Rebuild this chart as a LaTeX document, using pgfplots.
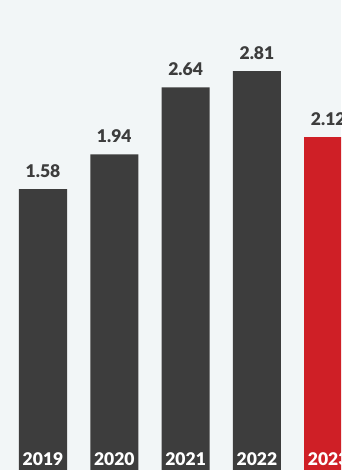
\documentclass[border=0pt]{standalone}
\usepackage{fontspec}
\setmainfont{Lato}[BoldFont={Lato Black}]
\usepackage{pgfplots}
\usepackage{pgfplotstable}
\pgfplotsset{compat=1.18}
\definecolor{bg}{HTML}{F2F6F7}
\definecolor{darkbar}{HTML}{3D3D3D}
\definecolor{redbar}{HTML}{CF1F26}
\pgfplotstableread{
x v lab
0 1.58 2019
1 1.94 2020
2 2.64 2021
3 2.81 2022
}\greybars
\pgfplotstableread{
x v lab
4 2.12 2023
}\redbars
\begin{document}
\begin{tikzpicture}
\useasboundingbox (0,0) rectangle (341pt,470pt);
\fill[bg] (0,0) rectangle (341pt,470pt);
\begin{axis}[
  at={(0,0)}, anchor=south west,
  width=341pt, height=470pt, scale only axis,
  xmin=-0.603, xmax=4.179, ymin=0, ymax=4.901,
  axis line style={draw=none}, ticks=none,
  ybar, bar width=48pt, bar shift=0pt,
  nodes near coords, point meta=explicit symbolic,
  every node near coord/.append style={font=\fontsize{17.5}{20}\selectfont\bfseries, text=darkbar, anchor=base, inner sep=0pt, yshift=12pt},
]
\addplot[fill=darkbar, draw=none] table[x=x, y expr=\thisrow{v}+1.35, meta=v] {\greybars};
\addplot[fill=redbar, draw=none] table[x=x, y expr=\thisrow{v}+1.35, meta=v] {\redbars};
\end{axis}
\begin{axis}[
  at={(0,0)}, anchor=south west,
  width=341pt, height=470pt, scale only axis,
  xmin=-0.603, xmax=4.179, ymin=0, ymax=4.901,
  axis line style={draw=none}, ticks=none,
  nodes near coords, point meta=explicit symbolic,
  every node near coord/.append style={font=\fontsize{17.5}{20}\selectfont\bfseries, text=white, anchor=base, inner sep=0pt},
]
\addplot[draw=none, mark=none] table[x=x, y expr=0.052, meta=lab] {\greybars};
\addplot[draw=none, mark=none] table[x=x, y expr=0.052, meta=lab] {\redbars};
\end{axis}
\end{tikzpicture}
\end{document}
